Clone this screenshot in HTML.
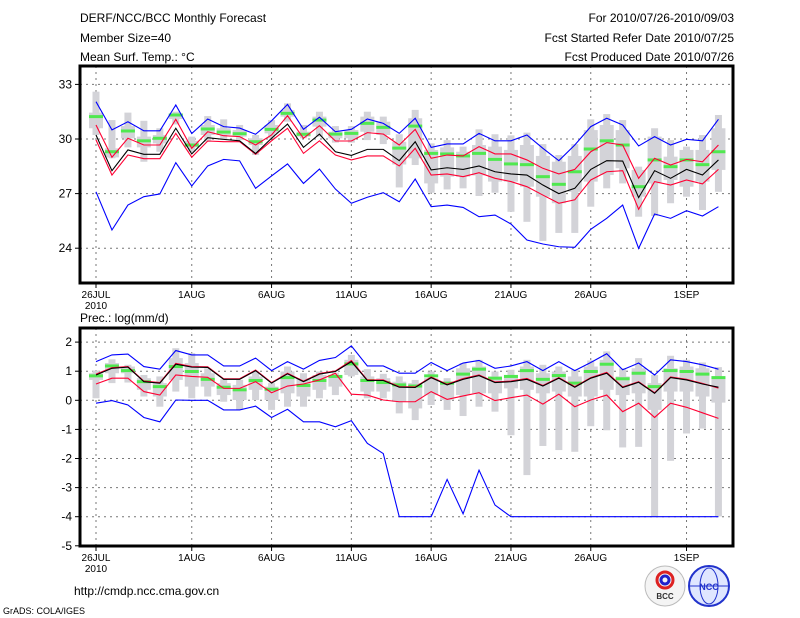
<!DOCTYPE html>
<html><head><meta charset="utf-8"><style>
body{margin:0;background:#fff;}
svg{display:block;font-family:"Liberation Sans",sans-serif;}
text{font-size:12px;fill:#000;}
.sm{font-size:10px;}
</style></head><body>
<svg id="chart" width="800" height="618" viewBox="0 0 800 618" xmlns="http://www.w3.org/2000/svg">
<rect width="800" height="618" fill="#fff"/>
<text x="80" y="22">DERF/NCC/BCC Monthly Forecast</text>
<text x="80" y="42">Member Size=40</text>
<text x="80" y="61">Mean Surf. Temp.: °C</text>
<text x="734" y="22" text-anchor="end">For 2010/07/26-2010/09/03</text>
<text x="734" y="42" text-anchor="end">Fcst Started Refer Date 2010/07/25</text>
<text x="734" y="61" text-anchor="end">Fcst Produced Date 2010/07/26</text>
<text x="80" y="322">Prec.: log(mm/d)</text>
<text x="74" y="595">http://cmdp.ncc.cma.gov.cn</text>
<text x="3" y="614" class="sm" style="font-size:9px">GrADS: COLA/IGES</text>
<g>
<circle cx="665" cy="586" r="20" fill="#f4f4f4" stroke="#bbb"/>
<circle cx="665" cy="580" r="8" fill="none" stroke="#d22" stroke-width="3"/>
<circle cx="665" cy="580" r="4" fill="none" stroke="#22c" stroke-width="3"/>
<text x="665" y="599" text-anchor="middle" style="font-size:8px;font-weight:bold;fill:#333">BCC</text>
</g>
<g>
<circle cx="709" cy="586" r="20" fill="#dfe6ff" stroke="#23c" stroke-width="2"/>
<ellipse cx="709" cy="586" rx="9" ry="18" fill="none" stroke="#23c"/>
<line x1="690" y1="586" x2="728" y2="586" stroke="#23c"/>
<text x="709" y="590" text-anchor="middle" style="font-size:9px;font-weight:bold;fill:#23c">NCC</text>
</g>
<g id="top"></g><g id="bot"></g>
</svg>
<script>
// ---- Temperature data (40 days from 26JUL) ----
const days = ["26JUL","1AUG","6AUG","11AUG","16AUG","21AUG","26AUG","1SEP"];
const dayIdx = [0,6,11,16,21,26,31,37];
const tTicks = [24,27,30,33];
const tMax = [32.05,30.5,30.95,30.45,30.45,31.87,30.3,31.1,30.68,30.6,30.26,31.0,31.9,30.53,31.2,30.4,30.53,31.1,30.86,30.31,31.14,29.54,29.73,29.73,30.31,29.9,29.9,30.22,29.49,28.81,29.67,30.68,31.14,30.77,29.62,30.13,29.67,29.98,29.9,31.08];
const tUp = [30.77,29.0,30.04,29.67,29.67,31.08,29.49,30.4,30.18,30.13,29.67,30.22,31.28,30.04,30.73,29.89,29.89,30.35,30.27,29.67,30.53,28.94,29.12,29.07,29.58,29.18,29.18,28.85,28.39,28.08,28.33,29.3,29.8,29.67,27.84,28.94,28.57,28.88,28.75,29.67];
const tMean = [30.22,28.26,29.4,29.16,29.16,30.59,29.18,30.07,29.98,29.9,29.2,30.04,30.82,29.54,30.27,29.3,29.1,29.43,29.43,28.81,29.85,28.3,28.42,28.33,28.52,28.2,28.08,28.02,27.47,27.0,27.29,28.33,28.81,28.79,26.78,28.26,27.84,28.33,28.02,28.85];
const tLow = [29.95,28.02,29.12,28.92,28.92,30.31,29.0,29.89,29.85,29.85,29.16,29.9,30.59,29.21,29.9,29.12,28.85,29.07,29.07,28.52,29.49,28.02,28.08,27.93,28.15,27.84,27.66,27.38,26.92,26.47,26.66,27.75,28.2,28.26,26.14,27.66,27.47,27.75,27.53,28.33];
const tMin = [27.1,25.0,26.37,26.83,26.98,28.7,27.42,28.52,28.88,28.8,27.29,27.97,28.63,27.56,28.35,27.25,26.47,26.8,27.05,26.55,27.8,26.28,26.37,26.24,25.73,25.82,25.33,24.45,24.23,24.08,24.05,25.04,25.64,26.37,23.99,25.88,25.64,26.06,25.77,26.28];
const tWHi = [32.6,31.04,31.45,31.0,30.59,31.5,30.13,31.26,31.08,30.77,30.22,31.04,31.96,30.77,31.5,30.71,30.71,31.5,31.23,30.26,31.6,29.76,29.94,29.58,30.53,30.26,30.2,30.35,29.72,29.12,29.72,31.08,31.37,31.04,28.48,30.59,29.94,29.58,30.22,31.32];
const tWLo = [30.22,28.94,29.54,28.75,29.3,30.8,29.3,29.85,29.94,29.94,29.12,30.04,30.95,30.04,30.13,29.8,29.8,29.94,29.72,27.34,28.57,27.05,27.23,27.29,26.87,27.05,26.0,25.45,24.4,24.84,24.84,26.28,27.29,27.56,25.73,25.77,26.47,26.83,26.1,27.1];
const tBHi = [31.45,29.49,30.71,30.13,30.22,31.4,29.9,30.77,30.59,30.49,30.04,30.77,31.59,30.4,31.23,30.4,30.49,31.23,30.95,29.85,31.14,29.4,29.54,29.3,29.67,29.58,29.4,29.67,29.07,28.75,29.07,30.49,30.77,30.49,28.3,30.13,29.03,29.4,29.4,30.59];
const tBLo = [30.59,28.99,30.04,29.54,29.76,31.1,29.54,30.22,30.22,30.13,29.67,30.31,31.23,30.13,30.68,30.04,30.04,30.4,30.22,28.6,28.94,27.56,27.93,27.93,28.0,27.66,27.66,27.38,26.83,26.47,27.1,27.66,28.02,28.39,26.83,27.56,27.75,27.38,27.66,28.3];
const tMed = [31.23,29.3,30.44,29.9,30.04,31.32,29.67,30.55,30.38,30.29,29.85,30.53,31.41,30.26,31.04,30.27,30.31,30.86,30.64,29.5,30.71,29.21,29.18,29.07,29.21,28.88,28.63,28.59,27.93,27.51,28.2,29.45,29.9,29.67,27.38,28.85,28.48,28.85,28.59,29.3];
// ---- Precipitation data ----
const pTicks = [-5,-4,-3,-2,-1,0,1,2];
const pMax = [1.33,1.56,1.59,1.16,1.07,1.71,1.56,1.56,1.18,1.18,1.45,1.02,1.33,1.07,1.37,1.47,1.87,1.18,1.18,0.93,0.93,1.3,1.02,1.28,1.37,1.1,1.18,1.33,1.02,1.33,1.02,1.3,1.6,1.05,1.28,0.87,1.39,1.33,1.22,1.07];
const pUp = [0.9,1.12,1.16,0.66,0.61,1.27,1.16,1.15,0.74,0.74,1.04,0.61,0.93,0.66,0.92,1.01,1.37,0.7,0.7,0.47,0.46,0.8,0.55,0.75,0.87,0.63,0.66,0.75,0.51,0.78,0.47,0.78,0.96,0.46,0.64,0.26,0.8,0.72,0.58,0.42];
const pMean = [0.87,1.1,1.14,0.64,0.59,1.24,1.14,1.13,0.72,0.72,1.02,0.59,0.91,0.64,0.9,0.99,1.33,0.68,0.68,0.45,0.44,0.78,0.53,0.72,0.85,0.61,0.64,0.72,0.49,0.76,0.45,0.76,0.93,0.44,0.62,0.24,0.78,0.7,0.56,0.45];
const pLow = [0.56,0.76,0.76,0.3,0.18,0.87,0.82,0.79,0.41,0.41,0.64,0.26,0.49,0.56,0.7,0.93,0.21,0.18,0.01,-0.05,-0.05,0.3,0.03,0.15,0.26,-0.01,0.09,0.18,-0.13,0.21,-0.22,0.01,0.18,-0.39,-0.1,-0.59,-0.1,-0.24,-0.43,-0.62];
const pMin = [-0.1,-0.01,-0.16,-0.59,-0.74,0.01,0.0,0.0,-0.33,-0.33,-0.2,-0.59,-0.31,-0.74,-0.74,-0.91,-0.7,-1.48,-1.83,-4,-4,-4,-2.72,-3.9,-2.4,-3.6,-4,-4,-4,-4,-4,-4,-4,-4,-4,-4,-4,-4,-4,-4];
const pWHi = [1.02,1.41,1.22,0.87,0.82,1.79,1.62,1.1,0.72,0.7,0.99,0.59,1.16,0.93,0.99,0.95,1.56,1.07,0.91,0.82,0.7,0.99,0.76,1.28,1.39,0.99,1.05,1.39,1.22,1.16,1.05,1.37,1.68,1.1,1.45,0.87,1.53,1.39,1.3,1.14];
const pWLo = [0.07,0.59,0.61,0.13,-0.22,0.3,0.07,0.13,-0.05,-0.33,0.01,-0.33,-0.22,-0.22,0.07,0.18,0.82,0.07,0.07,-0.45,-0.68,-0.16,-0.33,-0.54,-0.22,-0.39,-1.2,-2.57,-1.57,-1.71,-1.77,-0.89,-1.03,-1.62,-1.6,-3.99,-2.08,-1.14,-0.97,-3.99];
const pBHi = [0.93,1.28,1.16,0.76,0.59,1.45,1.28,0.93,0.59,0.53,0.82,0.47,0.99,0.76,0.87,0.82,1.39,0.82,0.76,0.64,0.59,0.76,0.64,1.1,1.16,0.82,0.87,1.16,0.93,0.99,0.82,1.16,1.39,0.82,1.1,0.59,1.1,1.16,1.1,0.82];
const pBLo = [0.7,0.93,0.93,0.36,0.13,0.7,0.47,0.47,0.18,0.01,0.36,0.01,0.24,0.13,0.36,0.47,0.87,0.3,0.3,-0.05,-0.28,0.18,0.01,0.18,0.24,0.24,0.41,0.36,0.24,0.3,0.13,0.13,0.36,0.18,0.24,-0.33,0.3,0.3,0.13,-0.08];
const pMed = [0.84,1.18,1.02,0.64,0.47,1.16,0.99,0.72,0.45,0.36,0.68,0.38,0.78,0.51,0.68,0.82,1.25,0.68,0.61,0.53,0.49,0.84,0.59,0.9,1.07,0.76,0.82,1.02,0.72,0.85,0.59,0.99,1.24,0.74,0.93,0.47,1.02,0.99,0.9,0.78];

const NS="http://www.w3.org/2000/svg";
const L=80,R=733;
const xDay = i => 96 + 15.96*i;
function mk(parent,tag,attrs){const e=document.createElementNS(NS,tag);for(const k in attrs)e.setAttribute(k,attrs[k]);parent.appendChild(e);return e;}

function panel(g,top,bottom,yv,ticks,ser){
  ticks.forEach(t=>{const y=yv(t);
    if(y>top+2&&y<bottom-2){const gl=mk(g,'line',{x1:L,x2:R,y1:y,y2:y,stroke:'#777','stroke-dasharray':'2,4','stroke-width':1});
    
    }
    const tk=mk(g,'line',{x1:L-5,x2:L,y1:y,y2:y,stroke:'#000'});
    
    
    const tx=mk(g,'text',{x:L-8,y:y+4,'text-anchor':'end'});tx.textContent=t;
    
    
  });
  dayIdx.forEach((d,k)=>{const x=xDay(d);
    const gl=mk(g,'line',{x1:x,x2:x,y1:top,y2:bottom,stroke:'#777','stroke-dasharray':'2,4'});
    
    
    const tk=mk(g,'line',{x1:x,x2:x,y1:bottom,y2:bottom+5,stroke:'#000'});
    
    
    const tx=mk(g,'text',{x:x,y:bottom+15,'text-anchor':'middle',class:'sm'});tx.textContent=days[k];
    
    
  });
  const yr=mk(g,'text',{x:xDay(0),y:bottom+26,'text-anchor':'middle',class:'sm'});yr.textContent='2010';
  
  
  for(let i=0;i<40;i++){const x=xDay(i);
    const w=mk(g,'rect',{x:x-3.5,y:yv(ser.wHi[i]),width:7,height:Math.max(1,yv(ser.wLo[i])-yv(ser.wHi[i])),fill:'#d3d3d8'});
    
    
    const b=mk(g,'rect',{x:x-7,y:yv(ser.bHi[i]),width:14,height:Math.max(1,yv(ser.bLo[i])-yv(ser.bHi[i])),fill:'#d3d3d8'});
    
    
    const m=mk(g,'rect',{x:x-7,y:yv(ser.med[i])-1.5,width:14,height:3,fill:'#50e850'});
    
    
  }
  const lines=[[ser.min,'#0000ff','min-line'],[ser.low,'#ff0033','lower-line'],[ser.up,'#ff0033','upper-line'],[ser.mean,'#000','mean-line'],[ser.max,'#0000ff','max-line']];
  lines.forEach(([arr,c,n])=>{const p=mk(g,'polyline',{points:arr.map((v,i)=>xDay(i)+','+yv(v)).join(' '),fill:'none',stroke:c,'stroke-width':1.1});
    
    });
  const f=mk(g,'rect',{x:L,y:top,width:R-L,height:bottom-top,fill:'none',stroke:'#000','stroke-width':3});
  
  
}
const yT=v=>139-(v-30)*18.2;
const yP=v=>400.3-v*29.1;
const gt=document.getElementById('top');


const gb=document.getElementById('bot');


panel(gt,66,283,yT,tTicks,{wHi:tWHi,wLo:tWLo,bHi:tBHi,bLo:tBLo,med:tMed,min:tMin,low:tLow,up:tUp,mean:tMean,max:tMax});
panel(gb,328,546,yP,pTicks,{wHi:pWHi,wLo:pWLo,bHi:pBHi,bLo:pBLo,med:pMed,min:pMin,low:pLow,up:pUp,mean:pMean,max:pMax});
</script>
</body></html>
